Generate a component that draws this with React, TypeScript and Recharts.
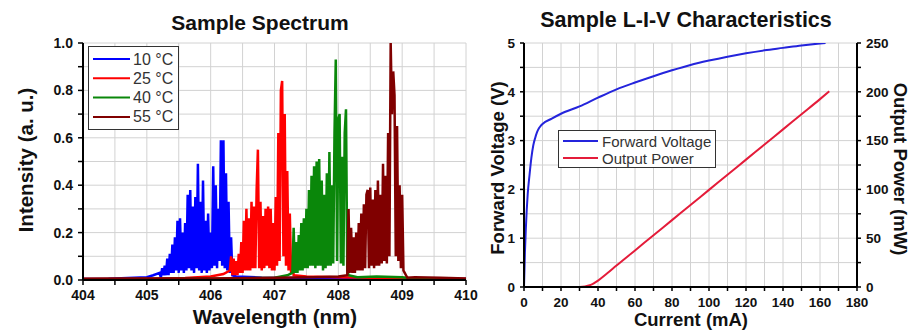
import React from 'react';
import { LineChart, Line, XAxis, YAxis, CartesianGrid } from 'recharts';

const FONT = '"Liberation Sans", Arial, Helvetica, sans-serif';

// ---------- Spectrum data ----------
const specNames = ['10 °C', '25 °C', '40 °C', '55 °C'];
const specColors = ['#0000ff', '#ff0000', '#0a870a', '#800000'];
const specStep = 0.02;

const spec10Start = 405.2;
const spec10Values = [
  0.03, 0.01, 0.05, 0.02, 0.06, 0.02, 0.09, 0.02, 0.11, 0.03,
  0.15, 0.03, 0.18, 0.04, 0.25, 0.03, 0.26, 0.04, 0.20, 0.03,
  0.24, 0.04, 0.36, 0.05, 0.38, 0.04, 0.31, 0.03, 0.35, 0.05,
  0.49, 0.04, 0.33, 0.03, 0.42, 0.04, 0.25, 0.03, 0.28, 0.04,
  0.20, 0.05, 0.48, 0.06, 0.40, 0.05, 0.30, 0.08, 0.59, 0.06,
  0.59, 0.05, 0.45, 0.04, 0.33, 0.03, 0.18, 0.02,
];
const spec10Base = [[404, 0.004], [404.4, 0.005], [404.8, 0.01], [405.0, 0.012], [405.1, 0.02], [406.4, 0.015], [406.8, 0.01], [407.2, 0.008], [408, 0.005], [410, 0.004]];

const spec25Start = 406.3;
const spec25Values = [
  0.04, 0.10, 0.02, 0.09, 0.02, 0.08, 0.02, 0.11, 0.03, 0.16,
  0.03, 0.25, 0.04, 0.30, 0.04, 0.26, 0.04, 0.33, 0.05, 0.31,
  0.05, 0.38, 0.55, 0.05, 0.33, 0.04, 0.27, 0.05, 0.30, 0.06,
  0.31, 0.05, 0.30, 0.04, 0.24, 0.04, 0.35, 0.06, 0.62, 0.08,
  0.80, 0.84, 0.10, 0.70, 0.06, 0.46, 0.04, 0.28, 0.03, 0.10,
  0.02,
];
const spec25Base = [[404, 0.004], [405, 0.005], [405.6, 0.008], [406.0, 0.015], [406.2, 0.025], [407.5, 0.015], [408, 0.012], [408.5, 0.01], [409, 0.008], [410, 0.004]];

const spec40Start = 407.28;
const spec40Values = [
  0.03, 0.22, 0.03, 0.16, 0.03, 0.19, 0.04, 0.24, 0.04, 0.26,
  0.05, 0.30, 0.05, 0.38, 0.06, 0.44, 0.06, 0.48, 0.05, 0.50,
  0.06, 0.51, 0.06, 0.42, 0.04, 0.36, 0.05, 0.45, 0.06, 0.54,
  0.06, 0.40, 0.07, 0.62, 0.93, 0.08, 0.68, 0.70, 0.07, 0.52,
  0.06, 0.62, 0.72, 0.04, 0.02,
];
const spec40Base = [[404, 0.003], [406, 0.005], [407, 0.01], [407.2, 0.02], [408.3, 0.012], [408.6, 0.015], [409, 0.012], [409.2, 0.004], [410, 0.003]];

const spec55Start = 408.14;
const spec55Values = [
  0.02, 0.30, 0.03, 0.22, 0.03, 0.18, 0.03, 0.20, 0.04, 0.24,
  0.04, 0.28, 0.04, 0.32, 0.05, 0.36, 0.38, 0.05, 0.39, 0.06,
  0.34, 0.05, 0.38, 0.06, 0.42, 0.06, 0.36, 0.07, 0.49, 0.08,
  0.44, 0.07, 0.62, 0.10, 1.00, 0.70, 0.88, 0.78, 0.10, 0.65,
  0.08, 0.40, 0.05, 0.36, 0.04, 0.03, 0.02, 0.01,
];
const spec55Base = [[404, 0.005], [405, 0.006], [406, 0.006], [407, 0.01], [407.6, 0.012], [408, 0.015], [409.2, 0.012], [409.6, 0.01], [410, 0.006]];

const specXTicks = [404, 404.5, 405, 405.5, 406, 406.5, 407, 407.5, 408, 408.5, 409, 409.5, 410];
const specYTicks = [0, 0.1, 0.2, 0.3, 0.4, 0.5, 0.6, 0.7, 0.8, 0.9, 1.0];

// ---------- L-I-V data ----------
const livNames = ['Forward Voltage', 'Output Power'];
const livColors = ['#2424dc', '#e41c3a'];
const fvCurrent = [0, 0.5, 1, 2, 3, 4, 5, 6, 7, 8, 9, 10, 15, 20, 30, 40, 50, 60, 70, 80, 90, 100, 110, 120, 130, 140, 150, 160, 163];
const fvVoltage = [0, 0.7, 1.2, 1.9, 2.3, 2.65, 2.9, 3.05, 3.17, 3.25, 3.3, 3.34, 3.45, 3.55, 3.7, 3.88, 4.05, 4.19, 4.32, 4.44, 4.55, 4.64, 4.72, 4.79, 4.85, 4.9, 4.95, 4.99, 5.0];
const opCurrent = [0, 10, 20, 30, 33, 35, 37, 40, 45, 50, 60, 70, 80, 90, 100, 110, 120, 130, 140, 150, 160, 165];
const opPower = [0, 0, 0, 0, 0.5, 1.5, 3, 6.5, 14, 22, 37.5, 53, 68.5, 84, 99.5, 115, 130.5, 146, 161.5, 177, 192.5, 200.5];

const livXTicks = [0, 10, 20, 30, 40, 50, 60, 70, 80, 90, 100, 110, 120, 130, 140, 150, 160, 170, 180];
const livVTicks = [0, 0.5, 1, 1.5, 2, 2.5, 3, 3.5, 4, 4.5, 5];
const livPTicks = [0, 25, 50, 75, 100, 125, 150, 175, 200, 225, 250];

// ---------- helpers ----------
type Pt = { x: number; y: number };
function buildSpectrum(base: number[][], start: number, values: number[]): Pt[] {
  const pts: Pt[] = values.map((v, i) => ({ x: Math.round((start + i * specStep) * 1000) / 1000, y: v }));
  const end = pts[pts.length - 1].x;
  const before = base.filter((b) => b[0] < start).map((b) => ({ x: b[0], y: b[1] }));
  const after = base.filter((b) => b[0] > end).map((b) => ({ x: b[0], y: b[1] }));
  return [...before, ...pts, ...after];
}

const specData = [
  buildSpectrum(spec10Base, spec10Start, spec10Values),
  buildSpectrum(spec25Base, spec25Start, spec25Values),
  buildSpectrum(spec40Base, spec40Start, spec40Values),
  buildSpectrum(spec55Base, spec55Start, spec55Values),
];
const fvData = fvCurrent.map((c, i) => ({ x: c, y: fvVoltage[i] }));
const opData = opCurrent.map((c, i) => ({ x: c, y: opPower[i] }));

const axisLine = { stroke: '#000', strokeWidth: 2 };
const tickLine = { stroke: '#000', strokeWidth: 1.5 };
const gridColor = '#d2d2d2';

export default function App() {
  const tickStyleL = { fontFamily: FONT, fontWeight: 700, fontSize: 14, fill: '#111' };
  const tickStyleR = { fontFamily: FONT, fontWeight: 700, fontSize: 13.5, fill: '#111' };
  return (
    <div style={{ position: 'absolute', left: 0, top: 0, width: 909, height: 331, background: '#fff', overflow: 'hidden' }}>
      <div style={{ position: 'absolute', left: 0, top: 0 }}>
        <LineChart width={480} height={331} margin={{ top: 43, right: 14, bottom: 0, left: 0 }}>
          <CartesianGrid stroke={gridColor} strokeWidth={1} />
          <XAxis
            type="number"
            dataKey="x"
            domain={[404, 410]}
            ticks={specXTicks}
            interval={0}
            height={51}
            axisLine={axisLine}
            tickLine={tickLine}
            tickSize={5}
            tickMargin={5}
            tick={tickStyleL}
            tickFormatter={(v: number) => (Number.isInteger(v) ? String(v) : '')}
            allowDataOverflow
          />
          <XAxis xAxisId="top" orientation="top" type="number" domain={[404, 410]} height={0} tick={false} tickLine={false} axisLine={{ stroke: '#000', strokeWidth: 1.5 }} />
          <YAxis
            type="number"
            domain={[0, 1]}
            ticks={specYTicks}
            interval={0}
            width={83}
            axisLine={axisLine}
            tickLine={tickLine}
            tickSize={5}
            tickMargin={5}
            tick={tickStyleL}
            tickFormatter={(v: number) => (Math.round(v * 10) % 2 === 0 ? v.toFixed(1) : '')}
            allowDataOverflow
          />
          <YAxis yAxisId="right" orientation="right" type="number" domain={[0, 1]} width={0} tick={false} tickLine={false} axisLine={{ stroke: '#000', strokeWidth: 1.5 }} />
          {specData.map((d, i) => (
            <Line
              key={specNames[i]}
              data={d}
              dataKey="y"
              name={specNames[i]}
              type="linear"
              stroke={specColors[i]}
              strokeWidth={2.5}
              dot={false}
              isAnimationActive={false}
            />
          ))}
        </LineChart>
      </div>

      <div style={{ position: 'absolute', left: 470, top: 0 }}>
        <LineChart width={439} height={331} margin={{ top: 43, right: 0, bottom: 0, left: 0 }}>
          <CartesianGrid stroke={gridColor} strokeWidth={1} yAxisId="v" />
          <XAxis
            type="number"
            dataKey="x"
            domain={[0, 180]}
            ticks={livXTicks}
            interval={0}
            height={44}
            axisLine={axisLine}
            tickLine={tickLine}
            tickSize={4}
            tickMargin={6}
            tick={tickStyleR}
            tickFormatter={(v: number) => (v % 20 === 0 ? String(v) : '')}
          />
          <XAxis xAxisId="top" orientation="top" type="number" domain={[0, 180]} height={0} tick={false} tickLine={false} axisLine={{ stroke: '#555', strokeWidth: 1 }} />
          <YAxis
            yAxisId="v"
            type="number"
            domain={[0, 5]}
            ticks={livVTicks}
            interval={0}
            width={54}
            axisLine={axisLine}
            tickLine={tickLine}
            tickSize={4}
            tickMargin={5}
            tick={tickStyleR}
            tickFormatter={(v: number) => (Number.isInteger(v) ? String(v) : '')}
            allowDataOverflow
          />
          <YAxis
            yAxisId="p"
            orientation="right"
            type="number"
            domain={[0, 250]}
            ticks={livPTicks}
            interval={0}
            width={52}
            axisLine={axisLine}
            tickLine={tickLine}
            tickSize={4}
            tickMargin={5}
            tick={tickStyleR}
            tickFormatter={(v: number) => (v % 50 === 0 ? String(v) : '')}
            allowDataOverflow
          />
          <Line yAxisId="v" data={fvData} dataKey="y" name={livNames[0]} type="monotone" stroke={livColors[0]} strokeWidth={2} dot={false} isAnimationActive={false} />
          <Line yAxisId="p" data={opData} dataKey="y" name={livNames[1]} type="monotone" stroke={livColors[1]} strokeWidth={2} dot={false} isAnimationActive={false} />
        </LineChart>
      </div>

      <svg width={909} height={331} style={{ position: 'absolute', left: 0, top: 0, pointerEvents: 'none' }}>
        <g fontFamily={FONT} fontWeight={700} fill="#111">
          <text x={260} y={22} fontSize={21} textAnchor="middle" dominantBaseline="central">Sample Spectrum</text>
          <text x={686} y={20} fontSize={21.5} textAnchor="middle" dominantBaseline="central">Sample L-I-V Characteristics</text>
          <text x={275} y={316} fontSize={20.5} textAnchor="middle" dominantBaseline="central">Wavelength (nm)</text>
          <text x={25} y={160} fontSize={20.5} textAnchor="middle" dominantBaseline="central" transform="rotate(-90 25 160)">Intensity (a. u.)</text>
          <text x={691} y={319} fontSize={18.5} textAnchor="middle" dominantBaseline="central">Current (mA)</text>
          <text x={497} y={168} fontSize={18.5} textAnchor="middle" dominantBaseline="central" transform="rotate(-90 497 168)">Forward Voltage (V)</text>
          <text x={900} y={169} fontSize={18.5} textAnchor="middle" dominantBaseline="central" transform="rotate(90 900 169)">Output Power (mW)</text>
        </g>

        {/* spectrum legend */}
        <rect x={88.5} y={46.5} width={90} height={83} fill="#fff" stroke="#333" strokeWidth={1} />
        {specNames.map((n, i) => (
          <g key={n}>
            <line x1={93} x2={130} y1={59 + i * 19.3} y2={59 + i * 19.3} stroke={specColors[i]} strokeWidth={2} />
            <text x={133} y={59 + i * 19.3} fontFamily={FONT} fontSize={16} fill="#333" dominantBaseline="central">{n}</text>
          </g>
        ))}

        {/* LIV legend */}
        <rect x={558.5} y={130.5} width={157} height={37} fill="#fff" stroke="#333" strokeWidth={1} />
        {livNames.map((n, i) => (
          <g key={n}>
            <line x1={563} x2={598} y1={141 + i * 17} y2={141 + i * 17} stroke={livColors[i]} strokeWidth={2} />
            <text x={602} y={141 + i * 17} fontFamily={FONT} fontSize={15} fill="#333" dominantBaseline="central">{n}</text>
          </g>
        ))}
      </svg>
    </div>
  );
}
